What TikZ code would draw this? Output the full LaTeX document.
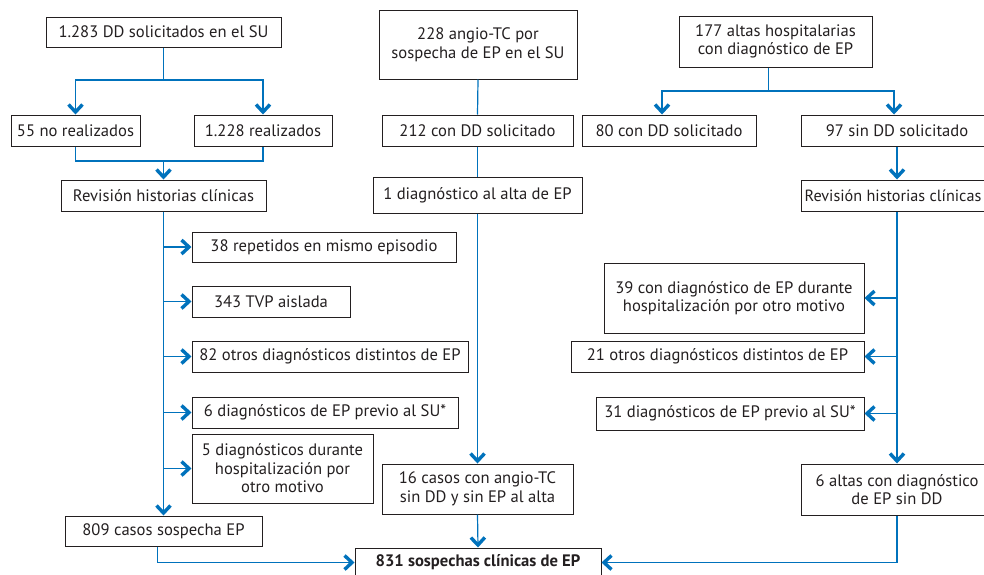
\documentclass[tikz,border=0pt]{standalone}
\usepackage{fontspec}
\setmainfont{PT Sans}
\usetikzlibrary{arrows.meta,calc}
\definecolor{flow}{RGB}{0,114,188}
\definecolor{ink}{RGB}{35,31,32}

% box given by its corners: name, x1, y1, x2, y2, text
\newcommand\flowbox[6]{%
  \node[box, minimum width={#4-#2}, minimum height={#5-#3}] (#1)
    at ({(#2+#4)/2},{(#3+#5)/2}) {#6};}

\begin{document}
\begin{tikzpicture}[x=1pt,y=-1pt,
  box/.style={draw=ink, line width=1pt, inner sep=0pt, align=center,
              font=\fontsize{16.6}{18.5}\selectfont, text=ink},
  link/.style={draw=flow, line width=1.2pt},
  trunk/.style={draw=flow, line width=1.8pt},
  arr/.style={-{Straight Barb[length=7.5pt,width=14pt,line width=3.4pt]}},
]
\useasboundingbox (0,0) rectangle (984,574);

% left column
\flowbox{a}{46}{17}{281}{47}{1.283 DD solicitados en el SU}
\flowbox{b1}{11}{115}{140}{146}{55 no realizados}
\flowbox{b2}{194}{115}{332}{146}{1.228 realizados}
\flowbox{c}{61}{180}{266}{211}{Revisión historias clínicas}
\flowbox{l1}{192}{232}{456}{262}{38 repetidos en mismo episodio}
\flowbox{l2}{192}{286}{350}{317}{343 TVP aislada}
\flowbox{l3}{192}{341}{468}{372}{82 otros diagnósticos distintos de EP}
\flowbox{l4}{192}{397}{458}{428}{6 diagnósticos de EP previo al SU*}
\flowbox{l5}{192}{434}{373}{503}{5 diagnósticos durante\\hospitalización por\\otro motivo}
\flowbox{d}{65}{516}{262}{546}{809 casos sospecha EP}

% middle column
\flowbox{m0}{379}{10}{577}{79}{\fontsize{16.6}{20}\selectfont 228 angio-TC por\\sospecha de EP en el SU}
\flowbox{m1}{382}{115}{573}{146}{212 con DD solicitado}
\flowbox{m2}{373}{177}{582}{213}{1 diagnóstico al alta de EP}
\flowbox{m3}{382}{464}{573}{514}{16 casos con angio-TC\\sin DD y sin EP al alta}
\flowbox{f}{355}{548}{601}{577}{\bfseries 831 sospechas clínicas de EP}

% right column
\flowbox{r0}{679}{16}{872}{67}{177 altas hospitalarias\\con diagnóstico de EP}
\flowbox{r1}{582}{115}{756}{146}{80 con DD solicitado}
\flowbox{r2}{801}{115}{993}{146}{97 sin DD solicitado}
\flowbox{r3}{801}{180}{993}{211}{\fontsize{16.2}{18.5}\selectfont Revisión historias clínicas\hspace{8pt}}
\flowbox{r4}{604}{263}{864}{333}{39 con diagnóstico de EP durante\\hospitalización por otro motivo}
\flowbox{r5}{571}{341}{864}{372}{21 otros diagnósticos distintos de EP}
\flowbox{r6}{596}{397}{864}{430}{31 diagnósticos de EP previo al SU*}
\flowbox{r7}{801}{464}{993}{515}{6 altas con diagnóstico\\de EP sin DD}

% left connectors
\draw[link] (a.south) -- (a.south |- 0,80) coordinate (asplit);
\draw[link,arr] (asplit) -| (b1.north);
\draw[link,arr] (asplit) -| (b2.north);
\draw[link] (b1.south) -- (b1.south |- 0,161) coordinate (bjoin) -| (b2.south);
\draw[link,arr] (c.north |- bjoin) -- (c.north);
\draw[trunk,arr] (c.south) -- (d.north);
\foreach \n in {l1,l2,l3,l4,l5}
  \draw[link,arr] (c.south |- \n.west) -- (\n.west);
\draw[link,arr] ([xshift=-6pt]d.south) |- (f.west);

% middle connectors
\draw[link] (m0.south) -- (m1.north);
\draw[link] (m1.south) -- (m2.north);
\draw[link,arr] (m2.south) -- (m3.north);
\draw[link,arr] (m3.south) -- (f.north);

% right connectors
\draw[link] ([xshift=-7pt]r0.south) -- ([xshift=-7pt]r0.south |- 0,91) coordinate (rsplit);
\draw[link,arr] (rsplit) -| ([xshift=-7pt]r1.north);
\draw[link,arr] (rsplit) -| ([xshift=-3pt]r2.north);
\draw[link,arr] (r2.south) -- (r3.north);
\draw[trunk,arr] (r3.south) -- (r7.north);
\foreach \n in {r4,r5,r6}
  \draw[link,arr] (r3.south |- \n.east) -- (\n.east);
\draw[link,arr] (r7.south) |- (f.east);
\end{tikzpicture}
\end{document}
